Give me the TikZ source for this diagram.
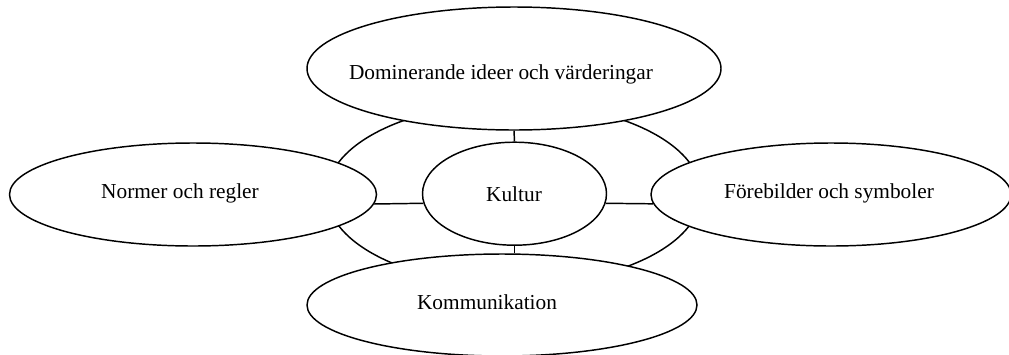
\documentclass[tikz,border=0pt]{standalone}
\usepackage{fontspec}
\setmainfont{Liberation Serif}
\usetikzlibrary{shapes.geometric}
\begin{document}
\begin{tikzpicture}[x=0.75pt,y=-0.75pt,
  oval/.style={draw,ellipse,fill=white,inner sep=0pt,line width=1.1pt},
  lbl/.style={anchor=base,inner sep=0pt,font=\fontsize{16}{19}\selectfont},
  link/.style={line width=1.1pt}]
\useasboundingbox (0,0) rectangle (1009,354);
\clip (0,0) rectangle (1009,354);
% outer ring behind the central cluster
\node[oval,minimum width=374*0.75pt,minimum height=182*0.75pt] (ring) at (514,194) {};
% surrounding ovals
\node[oval,minimum width=414*0.75pt,minimum height=123*0.75pt] (top) at (514,68.5) {};
\node[oval,minimum width=367*0.75pt,minimum height=103*0.75pt] (left) at (193,194.5) {};
\node[oval,minimum width=360*0.75pt,minimum height=103*0.75pt] (right) at (831,194.5) {};
\node[oval,minimum width=390*0.75pt,minimum height=102*0.75pt] (bot) at (502,305) {};
% centre
\node[oval,minimum width=184*0.75pt,minimum height=103*0.75pt] (core) at (514.5,193.7) {};
% labels
\node[lbl] (ttop) at (501,79.3) {Dominerande ideer och värderingar};
\node[lbl] (tleft) at (180,198.3) {Normer och regler};
\node[lbl] (tright) at (829,198.3) {Förebilder och symboler};
\node[lbl] (tbot) at (487,309.3) {Kommunikation};
\node[lbl] (tcore) at (514,201) {Kultur};
% connectors
\draw[link] (top.south) -- (core.north);
\draw[link] (core.south) -- (core.south |- bot.north);
\draw[link] (left.-3.2) -- (core.186.6);
\draw[link] (core.-6.6) -- (right.183.3);
\end{tikzpicture}
\end{document}
